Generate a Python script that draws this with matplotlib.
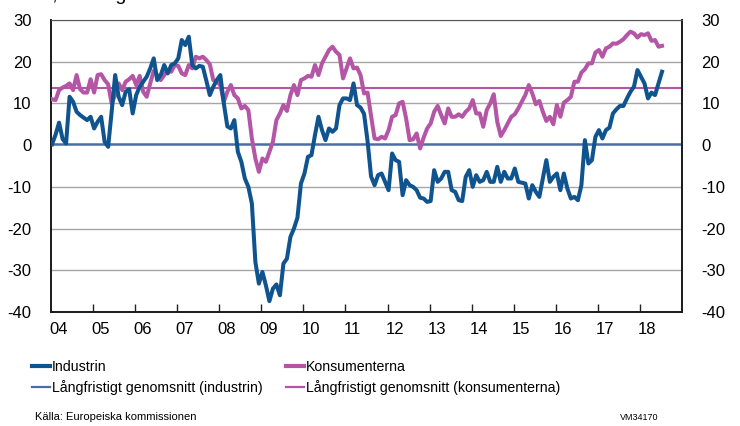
import numpy as np
import matplotlib
matplotlib.use("Agg")
import matplotlib.pyplot as plt
from matplotlib.lines import Line2D

plt.rcParams['font.family'] = ['Liberation Sans', 'DejaVu Sans']

# monthly values, Jan 2004 - Jul 2018
industrin = [
    0.2, 2.5, 5.4, 1.5, 0.4, 11.6, 10.4, 8, 7.2, 6.6, 6, 6.8,
    4, 5.6, 6.8, 0.8, -0.4, 8, 16.8, 11.6, 9.6, 12.8, 13.4, 7.6,
    12, 14, 15.2, 16.4, 18.4, 20.8, 15.6, 16.8, 19.2, 17.2, 19.2, 19.6,
    20.8, 25.2, 24, 26, 19.2, 18.4, 19, 18.8, 15.5, 12, 14, 15.6,
    16.8, 10, 4.5, 4, 6, -1.6, -4, -8, -10, -14, -28, -33.2,
    -30.4, -33.6, -37.4, -34.4, -33.4, -36, -28.4, -27.2, -22, -20, -17.4, -9.2,
    -6.8, -2.8, -2.4, 2.4, 6.8, 3.6, 1.2, 4, 3.2, 4, 9.6, 11.2,
    11.2, 10.8, 14.8, 9.6, 9, 7.5, 1, -7.5, -9.6, -7.2, -6.8, -8.8,
    -10.8, -2, -3.6, -4, -12, -8.4, -9.6, -10, -10.8, -12.6, -12.8, -13.6,
    -13.4, -6, -8.8, -8, -6.4, -6.4, -10.8, -11.2, -13.2, -13.4, -7.6, -6,
    -10, -7.2, -8.8, -8.4, -6.4, -8.8, -8.8, -5.2, -8.8, -6.4, -8, -8,
    -5.6, -8.8, -9, -9.2, -12.8, -9.6, -11.2, -12.4, -8, -3.6, -8.8, -7.6,
    -6.8, -10.8, -6.8, -10.4, -12.8, -12.4, -13.2, -9.6, 1.2, -4.4, -3.6, 2,
    3.6, 1.6, 3.6, 4.2, 7.6, 8.6, 9.4, 9.4, 11.2, 12.8, 14, 18,
    16.4, 14.8, 11.2, 12.6, 12, 14.8, 17.6,
]
konsumenterna = [
    11, 10.8, 13.2, 13.8, 14.2, 14.8, 13.2, 16.8, 13.4, 12.6, 12.6, 15.8,
    12.6, 16.8, 17, 15.6, 14.6, 10, 12, 14.8, 13.2, 15.2, 15.8, 16.6,
    14.4, 16.6, 12.8, 11.6, 14.8, 17.8, 16.8, 15.6, 16.8, 18, 17.6, 19.2,
    19, 17.2, 16.8, 19.2, 18.4, 21.2, 20.8, 21.2, 20.4, 19.4, 15.6, 15.2,
    14.4, 10.4, 12.8, 14.4, 12, 11.2, 8.8, 9.4, 8.4, 1.6, -3.2, -6.4,
    -3.2, -4, -1.6, 0.8, 6, 7.6, 9.6, 8.2, 12, 14.4, 12, 15.6,
    16, 16.6, 16.4, 19.2, 16.8, 19.6, 21.2, 22.8, 23.6, 22.4, 21.6, 16,
    18.4, 20.8, 18.4, 18.6, 16.8, 12.4, 12.6, 7, 1.6, 1.4, 2, 1.6,
    3.6, 6.8, 7.2, 10, 10.4, 6.4, 1.2, 1.4, 2.8, -0.8, 1.8, 4,
    5.2, 8, 9.4, 7.2, 5.2, 8.8, 6.8, 6.8, 7.4, 6.8, 8, 8.8,
    10.8, 7.6, 7.6, 4.4, 8.4, 10, 12.2, 5.6, 2.2, 3.6, 5.2, 6.8,
    7.4, 8.8, 10.4, 12, 14.4, 12.4, 9.8, 10.6, 8, 5.8, 6.8, 5,
    9.6, 6.8, 10.2, 10.8, 11.6, 15.2, 15.2, 17.4, 18.2, 19.6, 19.6, 22.2,
    22.8, 21.2, 23.2, 23.6, 24.4, 24.3, 24.8, 25.4, 26.4, 27.2, 26.8, 25.8,
    26.6, 26.4, 26.8, 25.0, 25.2, 23.6, 23.8,
]
snitt_industrin = 0.2
snitt_konsumenterna = 13.8

years = list(range(2004, 2019))
year_labels = ['04', '05', '06', '07', '08', '09', '10', '11', '12', '13',
               '14', '15', '16', '17', '18']
y_ticks = [30, 20, 10, 0, -10, -20, -30, -40]

blue = '#10548f'
pink = '#b455a6'
blue_avg = '#4a6da3'

t = 2004 + (np.arange(len(industrin)) + 0.3) / 12

fig = plt.figure(figsize=(7.4, 4.26), dpi=100)
ax = fig.add_axes([51 / 740, 1 - 312 / 426, 631 / 740, 292 / 426])

for y in [30, 20, 10, -10, -20, -30]:
    ax.axhline(y, color='#a6a6a6', lw=1.0, zorder=1)
ax.axhline(snitt_industrin, color=blue_avg, lw=1.8, zorder=2)
ax.axhline(snitt_konsumenterna, color=pink, lw=1.5, zorder=2)
ax.plot(t, konsumenterna, color=pink, lw=2.9, zorder=3, solid_joinstyle='round')
ax.plot(t, industrin, color=blue, lw=2.9, zorder=4, solid_joinstyle='round')

ax.set_xlim(2004, 2019)
ax.set_ylim(-40, 30)

# year ticks at the year starts, labels slightly after
ax.set_xticks(np.array(years) + 0.17)
ax.set_xticklabels(year_labels, fontsize=12)
ax.set_xticks(years[1:], minor=True)
ax.tick_params(axis='x', which='major', length=0, pad=7)
ax.tick_params(axis='x', which='minor', direction='in', length=6, width=1, color='#222222')

ax.set_yticks(y_ticks)
ax.set_yticklabels([str(v) for v in y_ticks], fontsize=12)
ax.tick_params(axis='y', length=0, pad=14, labelright=True, right=False)

for side in ['left', 'bottom', 'right']:
    ax.spines[side].set_color('#1a1a1a')
    ax.spines[side].set_linewidth(1.4)
ax.spines['top'].set_color('#555555')
ax.spines['top'].set_linewidth(0.8)

handles = [
    Line2D([], [], color=blue, lw=3),
    Line2D([], [], color=blue_avg, lw=1.6),
    Line2D([], [], color=pink, lw=3),
    Line2D([], [], color=pink, lw=1.6),
]
labels = ['Industrin', 'Långfristigt genomsnitt (industrin)',
          'Konsumenterna', 'Långfristigt genomsnitt (konsumenterna)']
fig.legend(handles, labels, loc='upper left', bbox_to_anchor=(22 / 740, 1 - 350 / 426),
           ncol=2, frameon=False, handlelength=1.25, handletextpad=0.15,
           columnspacing=1.7, labelspacing=0.4, borderpad=0.2, fontsize=10.2)

fig.text(2 / 740, 1.0 + 0.5 / 426, 'Saldo, säsongrensat', fontsize=14, va='baseline')
fig.text(35 / 740, 1 - 417 / 426, 'Källa: Europeiska kommissionen', fontsize=8, va='center')
fig.text(620 / 740, 1 - 418 / 426, 'VM34170', fontsize=6.5, va='center')

fig.savefig('out.png', dpi=100)
